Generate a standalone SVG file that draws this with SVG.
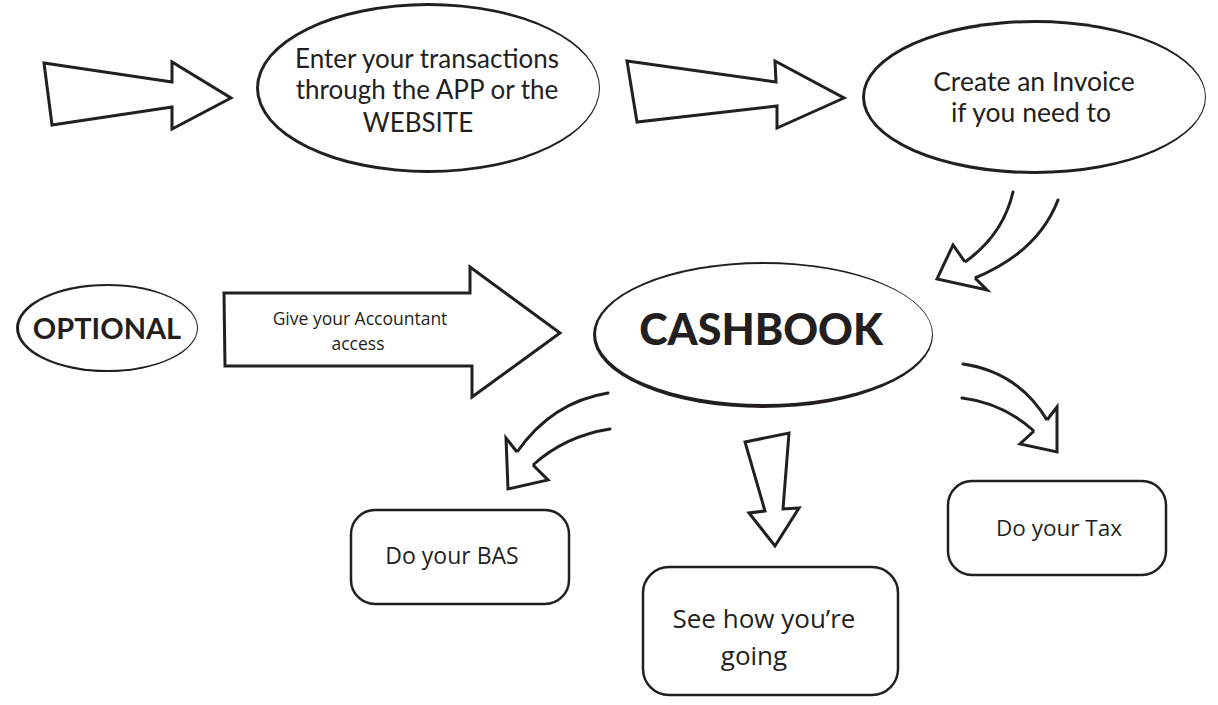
<svg xmlns="http://www.w3.org/2000/svg" width="1218" height="705" viewBox="0 0 1218 705">
<style>
.bg{fill:#ffffff}
.arrow{fill:#ffffff;stroke:#231f20;stroke-width:3;stroke-linejoin:miter}
.curve{fill:none;stroke:#231f20;stroke-width:3;stroke-linecap:round}
.head{fill:#ffffff;stroke:#231f20;stroke-width:3;stroke-linejoin:miter}
.ring{fill:#231f20}
.inner{fill:#ffffff}
.box{fill:#ffffff;stroke:#231f20;stroke-width:2.5}
.lato{font-family:Lato,"Liberation Sans",sans-serif;fill:#231f20;text-anchor:middle}
.myr{font-family:"Open Sans","Noto Sans",sans-serif;fill:#231f20;text-anchor:middle}
</style>
<rect class="bg" x="0" y="0" width="1218" height="705"/>
<g id="connectors">
  <polygon class="arrow" points="44,63 172,82 172,62 231,98 172,129 172,107 52,125"/>
  <polygon class="arrow" points="627,61 776,82 775,61 844,98 777,128 777,106 637,122"/>
  <g id="arrow-invoice-cashbook">
    <path class="curve" d="M1013,192 Q1003,235 965,262"/>
    <path class="curve" d="M1058,200 Q1038,252 975,278"/>
    <path class="head" d="M965,262 L953,245 L937,279 L987,290 L975,278"/>
  </g>
  <g id="arrow-cashbook-bas">
    <path class="curve" d="M608,393 Q552,402 517,452"/>
    <path class="curve" d="M610,429 Q565,436 533,465"/>
    <path class="head" d="M517,452 L506,438 L508,489 L548,480 L533,465"/>
  </g>
  <polygon id="arrow-cashbook-going" class="arrow" points="745,442 789,433 783,509 799,508 775,546 749,513 765,511"/>
  <g id="arrow-cashbook-tax">
    <path class="curve" d="M963,364 Q1018,372 1047,420"/>
    <path class="curve" d="M962,398 Q1003,403 1034,431"/>
    <path class="head" d="M1047,420 L1057,407 L1057,452 L1020,444 L1034,431"/>
  </g>
</g>
<g id="node-enter">
  <ellipse class="ring" cx="428" cy="88" rx="172" ry="85"/>
  <ellipse class="inner" cx="429" cy="88" rx="170" ry="82"/>
  <text class="lato" font-size="26" x="427" y="68">Enter your transactions</text>
  <text class="lato" font-size="26" x="427" y="99">through the APP  or the</text>
  <text class="lato" font-size="26" x="418" y="132">WEBSITE</text>
</g>
<g id="node-invoice">
  <ellipse class="ring" cx="1034" cy="97" rx="172" ry="77"/>
  <ellipse class="inner" cx="1035" cy="97" rx="170" ry="74"/>
  <text class="lato" font-size="26.5" x="1034" y="91">Create an Invoice</text>
  <text class="lato" font-size="26.5" x="1031" y="122">if you need to</text>
</g>
<g id="node-optional">
  <ellipse class="ring" cx="107" cy="328" rx="91" ry="44"/>
  <ellipse class="inner" cx="108" cy="328" rx="89" ry="42"/>
  <text class="lato" font-size="29" font-weight="bold" x="107" y="339">OPTIONAL</text>
</g>
<g id="node-accountant">
  <polygon class="arrow" points="224,293 470,293 470,267 560,333 472,397 472,366 225,366"/>
  <text class="myr" font-size="17.5" x="360" y="325">Give your Accountant</text>
  <text class="myr" font-size="17.5" x="358" y="350">access</text>
</g>
<g id="node-cashbook">
  <ellipse class="ring" cx="763" cy="335" rx="170" ry="73"/>
  <ellipse class="inner" cx="764" cy="334" rx="168" ry="70"/>
  <text class="lato" font-size="43" font-weight="900" x="761" y="345">CASHBOOK</text>
</g>
<g id="node-bas">
  <rect class="box" x="351" y="510" width="218" height="94" rx="24"/>
  <text class="myr" font-size="23" x="452" y="564">Do your BAS</text>
</g>
<g id="node-going">
  <rect class="box" x="643" y="567" width="255" height="128" rx="26"/>
  <text class="myr" font-size="26" x="764" y="628">See how you’re</text>
  <text class="myr" font-size="26" x="754" y="665">going</text>
</g>
<g id="node-tax">
  <rect class="box" x="948" y="481" width="218" height="94" rx="24"/>
  <text class="myr" font-size="22.5" x="1059" y="536">Do your Tax</text>
</g>
</svg>
